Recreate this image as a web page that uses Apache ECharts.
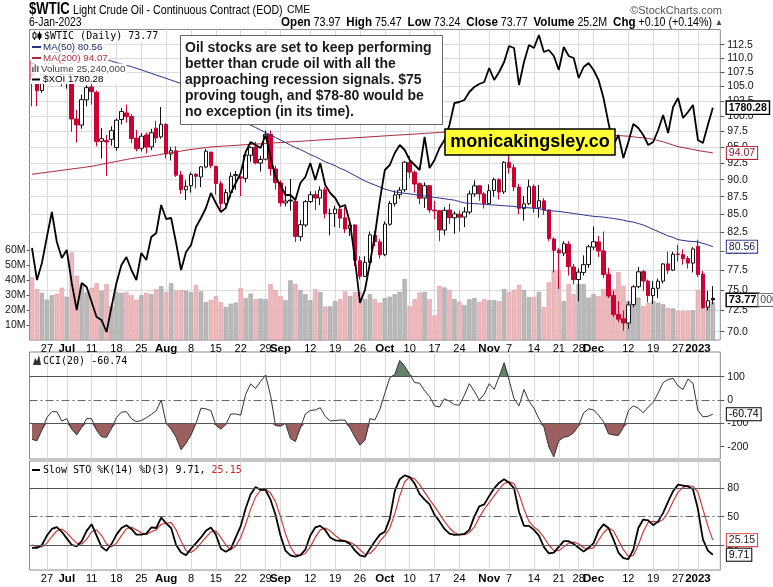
<!DOCTYPE html>
<html><head><meta charset="utf-8">
<script src="https://cdn.jsdelivr.net/npm/echarts@6/dist/echarts.min.js"></script>
<style>html,body{margin:0;padding:0;background:#fff}#c{width:773px;height:587px}</style>
</head><body><div id="c"></div>
<script>
// ---------------- DATA ----------------
const dates = ['2022-06-22','2022-06-23','2022-06-24','2022-06-27','2022-06-28','2022-06-29','2022-06-30','2022-07-01','2022-07-05','2022-07-06','2022-07-07','2022-07-08','2022-07-11','2022-07-12','2022-07-13','2022-07-14','2022-07-15','2022-07-18','2022-07-19','2022-07-20','2022-07-21','2022-07-22','2022-07-25','2022-07-26','2022-07-27','2022-07-28','2022-07-29','2022-08-01','2022-08-02','2022-08-03','2022-08-04','2022-08-05','2022-08-08','2022-08-09','2022-08-10','2022-08-11','2022-08-12','2022-08-15','2022-08-16','2022-08-17','2022-08-18','2022-08-19','2022-08-22','2022-08-23','2022-08-24','2022-08-25','2022-08-26','2022-08-29','2022-08-30','2022-08-31','2022-09-01','2022-09-02','2022-09-06','2022-09-07','2022-09-08','2022-09-09','2022-09-12','2022-09-13','2022-09-14','2022-09-15','2022-09-16','2022-09-19','2022-09-20','2022-09-21','2022-09-22','2022-09-23','2022-09-26','2022-09-27','2022-09-28','2022-09-29','2022-09-30','2022-10-03','2022-10-04','2022-10-05','2022-10-06','2022-10-07','2022-10-10','2022-10-11','2022-10-12','2022-10-13','2022-10-14','2022-10-17','2022-10-18','2022-10-19','2022-10-20','2022-10-21','2022-10-24','2022-10-25','2022-10-26','2022-10-27','2022-10-28','2022-10-31','2022-11-01','2022-11-02','2022-11-03','2022-11-04','2022-11-07','2022-11-08','2022-11-09','2022-11-10','2022-11-11','2022-11-14','2022-11-15','2022-11-16','2022-11-17','2022-11-18','2022-11-21','2022-11-22','2022-11-23','2022-11-25','2022-11-28','2022-11-29','2022-11-30','2022-12-01','2022-12-02','2022-12-05','2022-12-06','2022-12-07','2022-12-08','2022-12-09','2022-12-12','2022-12-13','2022-12-14','2022-12-15','2022-12-16','2022-12-19','2022-12-20','2022-12-21','2022-12-22','2022-12-23','2022-12-27','2022-12-28','2022-12-29','2022-12-30','2023-01-03','2023-01-04','2023-01-05','2023-01-06'];

const opens = [109.6,105.9,104.3,107.7,109.7,112.0,109.8,105.8,108.4,99.5, 98.5,102.7,104.9,104.0,95.9,96.0,96.2,94.9,99.4,100.5, 99.9,96.4,94.8,96.9,95.0,98.0,96.6,98.6,93.9,94.4, 90.7,88.5,89.1,90.8,90.4,91.9,94.2,92.0,89.4,86.5, 88.1,90.6,90.4,90.2,93.7,95.0,92.5,93.1,97.0,91.6, 89.5,86.6,87.0,86.8,81.9,83.5,86.8,87.8,87.3,88.5, 85.1,85.1,85.7,84.5,83.0,83.5,78.7,76.7,78.5,82.1, 81.2,79.5,83.6,86.5,87.8,88.5,92.6,91.1,89.4,87.3, 89.1,85.6,85.5,82.8,85.6,84.5,85.0,84.6,85.3,87.9, 89.1,87.9,86.5,88.4,90.0,88.2,92.6,91.8,88.9,85.8, 86.5,89.0,85.9,86.9,85.6,81.6,80.1,79.7,80.9,77.9, 76.3,77.2,78.2,80.5,81.2,80.0,76.9,74.3,72.0,71.5, 71.0,73.2,75.4,77.3,76.1,74.3,75.2,76.1,78.3,77.5, 79.6,79.5,79.0,78.4,80.6,77.0,72.9,73.97];
const closes = [106.19,104.27,107.62,109.57,111.76,109.78,105.76,108.43,99.50,98.53, 102.73,104.79,104.09,95.84,96.30,95.78,97.59,99.30,100.74,99.88, 96.35,94.70,96.70,94.98,97.26,96.42,98.62,93.89,94.42,90.66, 88.54,89.01,90.76,90.50,91.93,94.34,92.09,89.41,86.53,88.11, 90.50,90.77,90.23,93.74,94.89,92.52,93.06,97.01,91.64,89.55, 86.61,86.87,86.88,81.94,83.54,86.79,87.78,87.31,88.48,85.10, 85.11,85.73,84.45,82.94,83.49,78.74,76.71,78.50,82.15,81.23, 79.49,83.63,86.52,87.76,88.45,92.64,91.13,89.35,87.27,89.11, 85.61,85.46,82.82,85.55,84.51,85.05,84.58,85.32,87.91,89.08, 87.90,86.53,88.37,90.00,88.17,92.61,91.79,88.91,85.83,86.47, 88.96,85.87,86.92,85.59,81.64,80.08,79.73,80.95,77.94,76.28, 77.24,78.20,80.55,81.22,79.98,76.93,74.25,72.01,71.46,71.02, 73.17,75.39,77.28,76.11,74.29,75.19,76.09,78.29,77.49,79.56, 79.53,78.96,78.40,80.26,76.93,72.84,73.67,73.77];
const lows = [101.6,101.6,103.9,106.5,109.0,108.8,105.0,104.6,97.4,95.7, 97.9,101.6,101.9,95.1,93.2,90.56,95.2,94.4,98.6,98.9, 95.6,94.3,94.3,94.0,94.5,95.6,96.3,93.2,92.9,90.4, 87.9,87.0,88.1,88.7,88.9,91.7,91.7,87.8,85.7,86.1, 87.4,88.5,87.6,89.6,92.7,92.3,91.2,92.9,90.6,88.5, 86.1,86.1,85.5,81.2,81.3,83.2,86.6,85.6,86.3,84.4, 82.1,83.2,83.1,82.4,82.0,78.0,76.3,76.6,77.6,80.6, 79.0,79.3,83.4,86.1,87.2,88.2,90.2,88.1,86.4,85.9, 85.2,84.3,81.3,82.1,83.6,82.3,82.6,83.2,85.0,87.5, 86.9,85.8,86.4,87.5,87.1,87.9,90.9,88.3,85.0,84.1, 86.3,85.2,84.5,84.9,81.3,77.2,75.1,79.3,76.8,75.7, 73.6,76.8,77.8,80.1,79.2,76.5,74.0,71.7,71.1,70.1, 70.3,72.9,75.2,74.9,73.5,73.3,74.0,75.8,77.0,77.4, 78.6,78.2,77.7,77.2,76.6,72.7,72.5,73.24];
const highs = [110.0,106.5,107.9,110.0,112.3,112.3,110.3,108.9,111.0,101.0, 103.6,105.2,106.0,104.3,98.0,96.9,98.3,99.6,101.3,101.9, 100.3,97.7,97.2,97.3,97.9,99.2,101.5,98.8,95.0,95.1, 91.3,89.9,91.1,91.0,92.0,94.7,94.2,92.1,89.8,88.6, 91.1,91.3,90.5,94.2,95.1,95.8,93.6,97.6,97.6,92.1, 89.9,89.0,90.1,87.2,84.2,87.0,88.3,88.4,89.0,88.9, 85.8,86.2,86.2,86.0,84.2,83.6,79.3,79.3,82.6,82.7, 81.6,84.0,86.9,88.4,88.9,92.8,93.6,91.4,89.6,89.6, 89.2,86.9,85.6,86.0,86.5,85.4,85.5,86.0,88.4,89.9, 89.1,88.2,89.3,90.3,90.2,92.8,93.7,92.3,89.4,87.6, 90.0,89.3,89.2,87.3,85.7,81.8,80.4,81.3,81.3,78.3, 77.7,79.4,80.8,83.3,82.0,82.6,77.8,74.9,73.6,72.5, 73.6,75.6,77.9,77.5,76.3,76.1,76.4,78.4,79.9,79.9, 80.8,80.2,79.3,80.5,81.5,77.4,74.9,75.47];
const prevClose0 = 109.52;

// volume, millions
const volumes = [42,34,31.6,27,30,31,35,29,58.6,43, 37,32,35,38,33,37.5,22.7,32,31.6,32, 30,27,30,31.6,30.7,34,36,32,38,33, 33.4,33,32,36.8,32.5,25.4,26.8,29.3,25.4,22, 24.3,25,34.8,28,31,27.3,27.7,27.3,37.5,33.4, 29.5,26.6,40,37.5,33.4,30.7,26.6,34,32,22.5, 22.5,26,27.3,32.5,29.5,32,32,27.3,30.7,27.3, 25,28,29,30.7,32.2,40.9,22.7,27.3,31.8,32.2, 27.3,16.4,36.3,35.2,33.6,27.3,25.6,23.4,27.3,28, 25.6,27.3,26.6,26.8,26,34,32.2,33.6,37,33.4, 28.8,28.8,32.2,22,38.6,47,46.6,26,37.5,30.7, 37.5,37.5,28.4,30.7,29.5,34,45.4,34,45.4,36.3, 26,28.4,28.4,22.7,25,26,25,23.9,21.5,21.1, 19.3,19.3,19.3,19.8,33.4,33.4,26,25.24];

const ma50 = [111.8,111.8,111.7,111.7,111.6,111.5,111.4,111.3,111.1,110.9, 110.8,110.6,110.4,110.2,110.0,109.7,109.5,109.2,109.0,108.7, 108.5,108.2,107.9,107.6,107.3,107.0,106.7,106.4,106.1,105.8, 105.5,105.1,104.6,104.1,103.6,103.1,102.6,102.1,101.6,101.1, 100.6,100.1,99.5,99.0,98.5,98.1,97.7,97.3,96.9,96.5, 96.1,95.7,95.3,94.9,94.6,94.2,93.8,93.5,93.1,92.7, 92.4,92.1,91.7,91.4,91.0,90.6,90.2,89.8,89.5,89.2, 88.9,88.6,88.4,88.2,88.1,88.0,87.9,87.8,87.7,87.6, 87.5,87.4,87.3,87.2,87.1,87.0,86.8,86.6,86.55,86.5, 86.45,86.4,86.35,86.3,86.25,86.2,86.15,86.1,86.0,85.95, 85.9,85.85,85.8,85.6,85.5,85.45,85.4,85.3,85.2,85.1, 85.0,84.9,84.8,84.7,84.65,84.6,84.5,84.4,84.3,84.15, 84.0,83.9,83.7,83.5,83.2,82.9,82.6,82.3,82.0,81.8, 81.5,81.4,81.3,81.25,81.2,81.0,80.8,80.56];
const ma200 = [90.8,90.9,91.0,91.1,91.2,91.3,91.4,91.5,91.6,91.7, 91.8,91.9,92.0,92.15,92.3,92.45,92.6,92.75,92.9,93.05, 93.2,93.3,93.4,93.5,93.6,93.7,93.85,94.0,94.1,94.2, 94.35,94.5,94.6,94.7,94.8,94.9,95.0,95.05,95.1,95.15, 95.2,95.25,95.3,95.35,95.4,95.45,95.5,95.55,95.6,95.65, 95.7,95.75,95.8,95.85,95.9,95.95,96.0,96.05,96.1,96.15, 96.2,96.25,96.3,96.35,96.4,96.45,96.5,96.55,96.6,96.65, 96.7,96.75,96.8,96.85,96.9,96.95,97.0,97.05,97.1,97.15, 97.2,97.25,97.3,97.35,97.4,97.4,97.45,97.45,97.5,97.5, 97.5,97.5,97.5,97.5,97.5,97.5,97.5,97.5,97.45,97.45, 97.4,97.4,97.35,97.3,97.3,97.25,97.2,97.2,97.15,97.1, 97.1,97.05,97.0,97.0,96.95,96.9,96.9,96.85,96.8,96.75, 96.7,96.6,96.5,96.45,96.35,96.2,96.0,95.8,95.55,95.3, 95.05,94.9,94.75,94.6,94.45,94.3,94.2,94.07];
const xoi = [1471.6,1401.2,1438.6,1495.8,1550.8,1484.8,1449.6,1467.2,1394.6,1335.2, 1394.6,1385.8,1352.8,1319.8,1313.2,1286.8,1341.8,1394.6,1434.2,1451.8, 1423.2,1401.2,1460.6,1445.2,1495.8,1504.6,1566.2,1535.4,1537.6,1482.6, 1423.2,1462.8,1478.2,1517.8,1537.6,1559.6,1592.6,1570.6,1550.8,1559.6, 1592.6,1614.6,1636.6,1682.8,1704.8,1698.2,1691.6,1720.2,1671.8,1627.8, 1610.2,1588.2,1588.2,1577.2,1614.6,1627.8,1658.6,1621.2,1658.6,1610.2, 1592.6,1581.6,1561.8,1566.2,1526.6,1445.2,1350.6,1379.2,1438.6,1500.2, 1577.2,1643.2,1654.2,1680.6,1698.2,1687.2,1665.2,1654.2,1643.2,1715.8, 1647.6,1665.2,1691.6,1709.2,1742.2,1790.6,1792.8,1797.2,1814.8,1825.8, 1832.4,1836.8,1867.6,1841.2,1858.8,1880.8,1916.0,1911.6,1830.2,1880.8, 1918.2,1911.6,1940.2,1902.8,1907.2,1894.0,1863.2,1913.8,1894.0,1889.6, 1845.6,1869.8,1878.6,1863.2,1841.2,1801.6,1746.6,1698.2,1720.2,1669.6, 1704.8,1744.4,1735.6,1720.2,1698.2,1704.8,1731.2,1764.2,1724.6,1781.8, 1801.6,1757.6,1770.8,1786.2,1709.2,1702.6,1742.2,1780.28];

const cci = [-169,-175,-129,-75,-50,-50,-90,-80,-125,-150, -118,-80,-80,-130,-158,-160,-122,-75,-52,-50, -80,-93,-88,-76,-62,-46,0,-100,-125,-160, -213,-185,-150,-100,-35,-38,-45,-108,-125,-105, -60,-60,-65,25,69,50,80,106,20,-110, -112,-100,-165,-178,-120,-60,-45,-43,-33,-70, -90,-88,-86,-86,-120,-160,-194,-172,-80,-85, -40,29,95,110,170,145,110,75,72,40, 15,-25,-30,5,-5,-20,-22,20,70,38, 0,25,70,46,100,160,85,5,-25,45, -5,-35,-80,-115,-200,-244,-175,-160,-155,-140, -110,-55,-38,-42,-65,-93,-145,-150,-152,-118, -45,-25,-35,-55,-30,-10,30,75,88,93, 60,45,90,72,-45,-72,-70,-60.74];
const stoK = [16.9,16.9,20,30,37,39,34,27,20,18.6, 24,35,42,30,18,13.8,21,31,38,41, 37,31,31,32,38.6,38,49,43,38,20, 12,9.3,16,22,28,35,38.6,31,16,12.8, 16,28,40,59,73.8,81.4,78.3,78.3,68,52, 30,14,9,7.6,9.3,15,30,38.6,40.3,36, 28,25,24.5,24,21,14,9,7.6,16,24, 31,34,48,77,89.7,93.8,92,85,74,68, 63,52,45,37,32,30.7,31,31.7,36,50, 61,63,72,80,86,89.7,86,80,55,40.3, 40.3,36,30,18,11,12,18,24,24,21, 17,13,17,22,35,42,38,26,12,6, 5,15,38,47,46,41,45,54,66,77, 84,83,82,79,58,26,14,9.71];
const stoD = [20,18,18,22,29,35,37,33,27,22, 21,26,34,36,30,21,18,22,30,37, 39,36,33,31,34,36,42,43,44,36, 24,14,12,16,22,28,34,35,28,20, 15,19,28,42,58,71,78,79,75,66, 50,32,18,10,9,11,18,28,36,38, 35,30,26,24.5,23,20,15,10,11,16, 24,30,38,53,72,87,92,90,84,76, 68,61,53,45,38,33,31,31,33,39, 49,58,65,72,79,85,87,85,74,58, 45,39,35,28,20,14,14,18,22,23, 21,17,16,17,25,33,38,35,25,15, 8,9,20,34,44,45,44,47,55,66, 76,81,83,82,76,58,40,25.15];

const tickIdx = [3,7,12,17,22,27,32,37,42,47,50,56,61,66,71,76,81,86,92,96,101,106,110,113,120,125,130,134];
const tickTxt = ['27','Jul','11','18','25','Aug','8','15','22','29','Sep','12','19','26','Oct','10','17','24','Nov','7','14','21','28','Dec','12','19','27','2023'];
const monthTxt = ['Jul','Aug','Sep','Oct','Nov','Dec','2023'];
const priceTicks = [70,72.5,75,77.5,80,82.5,85,87.5,90,92.5,95,97.5,100,102.5,105,107.5,110,112.5];
const volTicks = [10,20,30,40,50,60];
const cciTicks = [100,0,-100,-200];
const stoTicks = [20,50,80];

// ---------------- STYLE / BUILD ----------------
const RED = '#cc0033', BLK = '#111';
const FF = 'Liberation Sans';
const MONO = 'DejaVu Sans Mono';

const candleData = opens.map((o, i) => {
  const c = closes[i], prev = i ? closes[i - 1] : prevClose0;
  const col = c < prev ? RED : BLK;
  const fill = c > o ? '#ffffff' : col;
  return { value: [o, c, lows[i], highs[i]], itemStyle: { color: fill, color0: fill, borderColor: col, borderColor0: col } };
});
const volData = volumes.map((v, i) => {
  const prev = i ? closes[i - 1] : prevClose0;
  const dn = closes[i] < prev;
  return { value: v, itemStyle: { color: dn ? '#eeb8bc' : '#b9b9b9', borderColor: dn ? '#dc9aa0' : '#9d9d9d', borderWidth: 0.6 } };
});

const catData = dates.concat(['']);
function xAx(gi, show) {
  return {
    type: 'category', gridIndex: gi, data: catData, boundaryGap: true,
    axisLine: { show: false }, axisTick: { show: false },
    axisLabel: {
      show: show, interval: (idx) => tickIdx.indexOf(idx) >= 0, margin: 3,
      color: '#000', fontSize: 11, fontFamily: FF,
      formatter: (v, idx) => { const k = tickIdx.indexOf(idx); if (k < 0) return ''; const t = tickTxt[k]; return monthTxt.indexOf(t) >= 0 ? '{b|' + t + '}' : t; },
      rich: { b: { fontWeight: 'bold', fontSize: 11.5, fontFamily: FF, color: '#000' } }
    },
    splitLine: { show: true, interval: (idx) => tickIdx.indexOf(idx) >= 0, alignWithLabel: true, lineStyle: { color: '#dadada', width: 1 } }
  };
}
const gridL = 29.5, gridR = 52.7;
const lblBox = (border, color, bold) => ({
  show: true, color: color, fontSize: 10.5, fontFamily: FF, fontWeight: bold ? 'bold' : 'normal',
  backgroundColor: '#fff', borderColor: border, borderWidth: bold ? 1.4 : 1, padding: [1, 2, 0, 2], offset: [6, 0]
});

const option = {
  animation: false,
  backgroundColor: '#fff',
  textStyle: { fontFamily: FF },
  grid: [
    { left: gridL, right: gridR, top: 29.5, bottom: 247, show: true, borderColor: '#8a8a8a', borderWidth: 1 },
    { left: gridL, right: gridR, top: 352, bottom: 128, show: true, borderColor: '#8a8a8a', borderWidth: 1 },
    { left: gridL, right: gridR, top: 461, bottom: 17, show: true, borderColor: '#8a8a8a', borderWidth: 1 }
  ],
  xAxis: [xAx(0, true), xAx(1, false), xAx(2, true)],
  yAxis: [
    { type: 'log', logBase: 10, gridIndex: 0, position: 'right', min: 69.04, max: 115.36,
      axisLine: { show: false },
      axisTick: { show: true, length: 4, customValues: priceTicks, lineStyle: { color: '#555' } },
      axisLabel: { customValues: priceTicks, formatter: (v) => Number(v).toFixed(1), fontSize: 10.5, color: '#111', margin: 7, fontFamily: FF },
      splitLine: { show: true, lineStyle: { color: '#dadada' } } },
    { type: 'value', gridIndex: 0, position: 'left', min: 0, max: 208,
      axisLine: { show: false },
      axisTick: { show: true, length: 3, customValues: volTicks, lineStyle: { color: '#555' } },
      axisLabel: { customValues: volTicks, formatter: (v) => v + 'M', fontSize: 10.5, color: '#111', margin: 4, fontFamily: FF },
      splitLine: { show: false } },
    { type: 'value', gridIndex: 0, show: false, min: 1269.2, max: 1952.3, splitLine: { show: false } },
    { type: 'value', gridIndex: 1, position: 'right', min: -253, max: 206,
      axisLine: { show: false },
      axisTick: { show: true, length: 4, customValues: cciTicks, lineStyle: { color: '#555' } },
      axisLabel: { customValues: cciTicks, fontSize: 10.5, color: '#111', margin: 7, fontFamily: FF },
      splitLine: { show: false } },
    { type: 'value', gridIndex: 2, position: 'right', min: -6.5, max: 109,
      axisLine: { show: false },
      axisTick: { show: true, length: 4, customValues: stoTicks, lineStyle: { color: '#555' } },
      axisLabel: { customValues: stoTicks, fontSize: 10.5, color: '#111', margin: 7, fontFamily: FF },
      splitLine: { show: false } }
  ],
  series: [
    { name: 'Volume', type: 'bar', xAxisIndex: 0, yAxisIndex: 1, data: volData, barWidth: '88%', z: 1, silent: true },
    { name: '$WTIC', type: 'candlestick', xAxisIndex: 0, yAxisIndex: 0, data: candleData, barWidth: 4, z: 3, silent: true,
      itemStyle: { borderWidth: 1 } },
    { name: 'MA200', type: 'line', xAxisIndex: 0, yAxisIndex: 0, data: ma200, symbol: 'none', z: 4, silent: true,
      lineStyle: { color: '#a8283c', width: 1 },
      endLabel: Object.assign(lblBox('#b02035', '#8a1a2a', false), { formatter: (p) => Number(p.value).toFixed(2) }) },
    { name: 'MA50', type: 'line', xAxisIndex: 0, yAxisIndex: 0, data: ma50, symbol: 'none', z: 4, silent: true,
      lineStyle: { color: '#27318b', width: 1 },
      endLabel: Object.assign(lblBox('#27318b', '#1a1a50', false), { formatter: (p) => Number(p.value).toFixed(2) }) },
    { name: '$XOI', type: 'line', xAxisIndex: 0, yAxisIndex: 2, data: xoi, symbol: 'none', z: 5, silent: true,
      lineStyle: { color: '#000', width: 1.8 },
      endLabel: Object.assign(lblBox('#000', '#000', true), { formatter: (p) => Number(p.value).toFixed(2) }) },
    { name: 'closeLabel', type: 'line', xAxisIndex: 0, yAxisIndex: 0, data: closes, symbol: 'none', z: 6, silent: true,
      lineStyle: { opacity: 0 },
      endLabel: { show: true, offset: [6, 0], formatter: (p) => '{a|' + Number(p.value).toFixed(2) + '}{c|000}',
        rich: { a: { fontWeight: 'bold', fontSize: 11, fontFamily: FF, color: '#000', backgroundColor: '#fff', borderColor: '#000', borderWidth: 1.4, padding: [1, 2, 0, 2] },
                c: { fontSize: 10.5, fontFamily: FF, color: '#444', backgroundColor: '#fff', borderColor: '#666', borderWidth: 1, padding: [1, 2, 0, 2] } } } },

    // CCI panel
    { name: 'cciBaseUp', type: 'line', xAxisIndex: 1, yAxisIndex: 3, data: cci.map(() => 100), stack: 'cu', stackStrategy: 'all', symbol: 'none', lineStyle: { opacity: 0 }, silent: true, z: 2 },
    { name: 'cciUp', type: 'line', xAxisIndex: 1, yAxisIndex: 3, data: cci.map((v) => Math.max(v - 100, 0)), stack: 'cu', stackStrategy: 'all', symbol: 'none', lineStyle: { opacity: 0 }, areaStyle: { color: '#66806a', opacity: 1 }, silent: true, z: 2 },
    { name: 'cciBaseDn', type: 'line', xAxisIndex: 1, yAxisIndex: 3, data: cci.map(() => -100), stack: 'cd', stackStrategy: 'all', symbol: 'none', lineStyle: { opacity: 0 }, silent: true, z: 2 },
    { name: 'cciDn', type: 'line', xAxisIndex: 1, yAxisIndex: 3, data: cci.map((v) => Math.min(v + 100, 0)), stack: 'cd', stackStrategy: 'all', symbol: 'none', lineStyle: { opacity: 0 }, areaStyle: { color: '#9c6060', opacity: 1 }, silent: true, z: 2 },
    { name: 'CCI', type: 'line', xAxisIndex: 1, yAxisIndex: 3, data: cci, symbol: 'none', z: 4, silent: true,
      lineStyle: { color: '#333', width: 1 },
      endLabel: Object.assign(lblBox('#000', '#000', false), { formatter: (p) => Number(p.value).toFixed(2) }),
      markLine: { silent: true, symbol: 'none', label: { show: false }, animation: false,
        data: [
          { yAxis: 100, lineStyle: { color: '#555', type: 'solid', width: 1 } },
          { yAxis: -100, lineStyle: { color: '#555', type: 'solid', width: 1 } },
          { yAxis: 0, lineStyle: { color: '#666', type: [8, 3, 2, 3], width: 1 } }
        ] } },

    // STO panel
    { name: '%D', type: 'line', xAxisIndex: 2, yAxisIndex: 4, data: stoD, symbol: 'none', z: 3, silent: true,
      lineStyle: { color: '#d23a3a', width: 1.2 },
      endLabel: Object.assign(lblBox('#d23a3a', '#222', false), { formatter: (p) => Number(p.value).toFixed(2) }),
      markLine: { silent: true, symbol: 'none', label: { show: false }, animation: false,
        data: [
          { yAxis: 80, lineStyle: { color: '#555', type: 'solid', width: 1 } },
          { yAxis: 20, lineStyle: { color: '#555', type: 'solid', width: 1 } },
          { yAxis: 50, lineStyle: { color: '#666', type: [8, 3, 2, 3], width: 1 } }
        ] } },
    { name: '%K', type: 'line', xAxisIndex: 2, yAxisIndex: 4, data: stoK, symbol: 'none', z: 4, silent: true,
      lineStyle: { color: '#000', width: 1.8 },
      endLabel: Object.assign(lblBox('#000', '#000', false), { formatter: (p) => Number(p.value).toFixed(2) }) }
  ],
  graphic: [
    // header
    { type: 'text', x: 29, y: 9.5, scaleX: 0.82, z: 100, style: { text: '$WTIC', fontFamily: FF, fontWeight: 'bold', fontSize: 16, fill: '#000', verticalAlign: 'middle' } },
    { type: 'text', x: 73, y: 10, scaleX: 0.815, z: 100, style: { text: 'Light Crude Oil - Continuous Contract (EOD)', fontFamily: FF, fontSize: 13, fill: '#000', verticalAlign: 'middle' } },
    { type: 'text', x: 287, y: 10.5, z: 100, style: { text: 'CME', fontFamily: FF, fontSize: 10.5, fill: '#000', verticalAlign: 'middle' } },
    { type: 'text', x: 29, y: 22.5, scaleX: 0.8, z: 100, style: { text: '6-Jan-2023', fontFamily: FF, fontSize: 13, fill: '#000', verticalAlign: 'middle' } },
    { type: 'text', x: 722, y: 10.5, z: 100, style: { text: '\u00a9StockCharts.com', fontFamily: FF, fontSize: 11, fill: '#555', align: 'right', verticalAlign: 'middle' } },
    { type: 'text', x: 723, y: 22.5, scaleX: 0.89, z: 100, style: {
        text: '{b|Open} {v|73.97}  {b|High} {v|75.47}  {b|Low} {v|73.24}  {b|Close} {v|73.77}  {b|Volume} {v|25.2M}  {b|Chg} {v|+0.10 (+0.14%)} {t|\u25b2}',
        align: 'right', verticalAlign: 'middle', fontFamily: FF, fontSize: 12, fill: '#000',
        rich: { b: { fontFamily: FF, fontWeight: 'bold', fontSize: 13, fill: '#000' }, v: { fontFamily: FF, fontSize: 12, fill: '#000' }, t: { fontFamily: FF, fontSize: 9, fill: '#444' } } } },

    // main legend rows
    { type: 'rect', z: 90, shape: { x: 30.5, y: 30.5, width: 128, height: 11 }, style: { fill: '#fff' } },
    { type: 'rect', z: 90, shape: { x: 30.5, y: 41.5, width: 74, height: 11 }, style: { fill: '#fff' } },
    { type: 'rect', z: 90, shape: { x: 30.5, y: 52.5, width: 78, height: 11 }, style: { fill: '#fff' } },
    { type: 'rect', z: 90, shape: { x: 30.5, y: 63.5, width: 96, height: 11 }, style: { fill: '#fff' } },
    { type: 'rect', z: 90, shape: { x: 30.5, y: 74.5, width: 88, height: 9.5 }, style: { fill: '#fff' } },
    { type: 'line', z: 95, shape: { x1: 34.5, y1: 31.5, x2: 34.5, y2: 40 }, style: { stroke: '#000', lineWidth: 1 } },
    { type: 'rect', z: 96, shape: { x: 33, y: 33, width: 3, height: 5 }, style: { fill: '#fff', stroke: '#000', lineWidth: 1 } },
    { type: 'line', z: 95, shape: { x1: 39.5, y1: 31.5, x2: 39.5, y2: 40 }, style: { stroke: '#000', lineWidth: 1 } },
    { type: 'rect', z: 96, shape: { x: 38, y: 34, width: 3, height: 4 }, style: { fill: '#000', stroke: '#000', lineWidth: 1 } },
    { type: 'text', x: 44, y: 36, z: 100, style: { text: '$WTIC (Daily) 73.77', fontFamily: MONO, fontSize: 10, fill: '#000', verticalAlign: 'middle' } },
    { type: 'line', z: 100, shape: { x1: 32, y1: 47, x2: 41, y2: 47 }, style: { stroke: '#27318b', lineWidth: 2 } },
    { type: 'text', x: 43, y: 47, z: 100, style: { text: 'MA(50) 80.56', fontFamily: FF, fontSize: 9.8, fill: '#1f2a6e', verticalAlign: 'middle' } },
    { type: 'line', z: 100, shape: { x1: 32, y1: 58, x2: 41, y2: 58 }, style: { stroke: '#a8283c', lineWidth: 2 } },
    { type: 'text', x: 43, y: 58, z: 100, style: { text: 'MA(200) 94.07', fontFamily: FF, fontSize: 9.8, fill: '#b3303f', verticalAlign: 'middle' } },
    { type: 'rect', z: 100, shape: { x: 32, y: 67, width: 1.6, height: 5 }, style: { fill: '#666' } },
    { type: 'rect', z: 100, shape: { x: 34.5, y: 64.5, width: 1.6, height: 7.5 }, style: { fill: '#666' } },
    { type: 'rect', z: 100, shape: { x: 37, y: 66, width: 1.6, height: 6 }, style: { fill: '#666' } },
    { type: 'text', x: 41, y: 69, z: 100, style: { text: 'Volume 25,240,000', fontFamily: FF, fontSize: 9.8, fill: '#444', verticalAlign: 'middle' } },
    { type: 'line', z: 100, shape: { x1: 32, y1: 79.5, x2: 40, y2: 79.5 }, style: { stroke: '#000', lineWidth: 2 } },
    { type: 'text', x: 43, y: 79.5, z: 100, style: { text: '$XOI 1780.28', fontFamily: FF, fontSize: 9.8, fill: '#000', verticalAlign: 'middle' } },

    // annotation box
    { type: 'rect', z: 110, shape: { x: 180.5, y: 35.5, width: 262, height: 89 }, style: { fill: '#fff', stroke: '#666', lineWidth: 1 } },
    { type: 'text', x: 185, y: 40.5, z: 111, style: {
        text: 'Oil stocks are set to keep performing\nbetter than crude oil with all the\napproaching recession signals. $75\nproving tough, and $78-80 would be\nno exception (in its time).',
        fontFamily: FF, fontWeight: 'bold', fontSize: 14, lineHeight: 15.9, fill: '#1a1a1a', verticalAlign: 'top' } },
    { type: 'rect', z: 110, shape: { x: 445, y: 129, width: 170, height: 26 }, style: { fill: '#ffff33', stroke: '#000', lineWidth: 1.5 } },
    { type: 'text', x: 530, y: 142.5, z: 111, style: { text: 'monicakingsley.co', fontFamily: FF, fontWeight: 'bold', fontSize: 18, fill: '#000', align: 'center', verticalAlign: 'middle' } },

    // CCI legend
    { type: 'polygon', z: 100, shape: { points: [[33, 365], [35, 358], [37, 361], [39, 355], [41, 365]] }, style: { fill: '#333' } },
    { type: 'text', x: 43, y: 361, z: 100, style: { text: 'CCI(20) -60.74', fontFamily: MONO, fontSize: 10, fill: '#000', verticalAlign: 'middle' } },
    // STO legend
    { type: 'line', z: 100, shape: { x1: 32, y1: 470, x2: 40, y2: 470 }, style: { stroke: '#000', lineWidth: 2 } },
    { type: 'text', x: 43, y: 470, z: 100, style: {
        text: '{k|Slow STO %K(14) %D(3) 9.71, }{d|25.15}', verticalAlign: 'middle', fontFamily: MONO, fontSize: 10, fill: '#000',
        rich: { k: { fontFamily: MONO, fontSize: 10, fill: '#000' }, d: { fontFamily: MONO, fontSize: 10, fill: '#c82828' } } } }
  ]
};

const chart = echarts.init(document.getElementById('c'), null, { renderer: 'canvas', width: 773, height: 587 });
chart.setOption(option);
</script>
</body></html>
